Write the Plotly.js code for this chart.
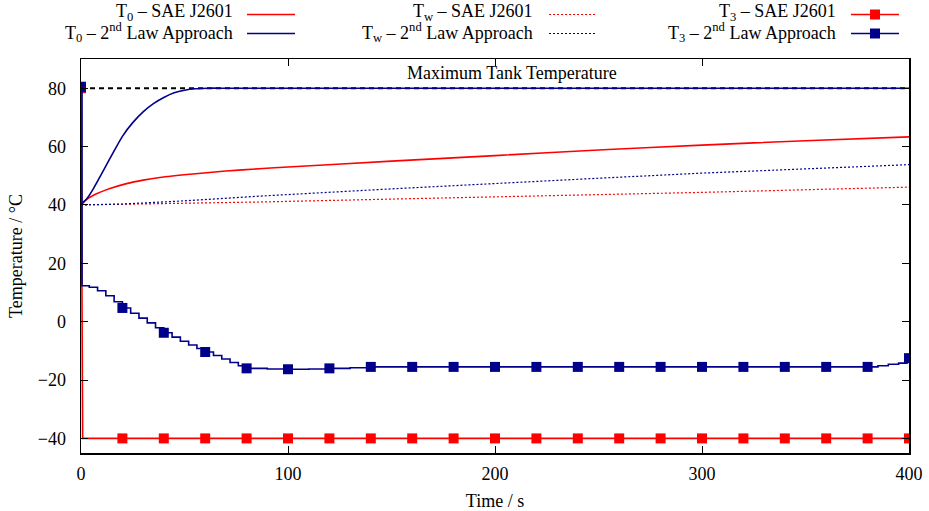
<!DOCTYPE html>
<html>
<head>
<meta charset="utf-8">
<script src="https://cdn.plot.ly/plotly-3.0.1.min.js"></script>
<style>html,body{margin:0;padding:0;background:#fff;}#chart{width:929px;height:511px;}</style>
</head>
<body>
<div id="chart"></div>
<script>
// ---- data ----
var maxTankTime = [0, 400];
var maxTankTemp = [80, 80];

var t0SaeTime = [0, 2, 6, 14, 22, 30, 38, 54, 70, 86, 100, 150, 200, 250, 300, 350, 400];
var t0SaeTemp = [40, 41.5, 43.3, 45.6, 47.3, 48.5, 49.4, 50.6, 51.6, 52.4, 53.0, 55.0, 56.9, 58.8, 60.5, 62.0, 63.3];

var t0LawTime = [0, 1, 3, 6, 11, 16, 20, 25, 30, 35, 40, 45, 50, 55, 62, 70, 400];
var t0LawTemp = [40, 40.8, 42.3, 45.6, 52.0, 58.5, 63.5, 68.2, 71.9, 74.7, 76.8, 78.4, 79.3, 79.8, 80, 80, 80];

var twSaeTime = [0, 50, 86, 150, 200, 246, 300, 350, 400];
var twSaeTemp = [40, 40.5, 41.0, 42.0, 42.7, 43.3, 44.3, 45.2, 46.1];

var twLawTime = [0, 20, 50, 86, 150, 200, 246, 300, 350, 400];
var twLawTemp = [40, 40.3, 41.4, 43.0, 45.5, 47.4, 49.0, 50.9, 52.4, 53.8];

var t3SaeTime = [0, 0.8, 400];
var t3SaeTemp = [80, -40, -40];

var t3LawTime = [0, 0.5, 4, 8, 12, 16, 20, 24, 28, 32, 36, 40, 44, 48, 52, 56, 60, 64, 68, 72, 76, 80, 90, 100, 110, 120, 130, 140, 385, 390, 395, 399, 400];
var t3LawTemp = [80.5, 12.3, 11.8, 10.6, 8.9, 6.8, 4.7, 2.9, 1.2, -0.4, -2.1, -3.8, -5.3, -6.7, -8.0, -9.2, -10.4, -11.6, -12.8, -14.0, -15.1, -16.0, -16.2, -16.3, -16.2, -16.0, -15.8, -15.5, -15.1, -14.6, -14.2, -13.9, -12.5];

var markTime = [0, 20, 40, 60, 80, 100, 120, 140, 160, 180, 200, 220, 240, 260, 280, 300, 320, 340, 360, 380, 400];
var t3SaeMark = [80, -40, -40, -40, -40, -40, -40, -40, -40, -40, -40, -40, -40, -40, -40, -40, -40, -40, -40, -40, -40];
var t3LawMark = [80.5, 4.7, -3.8, -10.4, -16.0, -16.3, -16.0, -15.5, -15.5, -15.5, -15.5, -15.5, -15.5, -15.5, -15.5, -15.5, -15.5, -15.5, -15.5, -15.5, -12.5];

var legendLabels = [
  'T<sub>0</sub> – SAE J2601',
  'T<sub>0</sub> – 2<sup>nd</sup> Law Approach',
  'T<sub>w</sub> – SAE J2601',
  'T<sub>w</sub> – 2<sup>nd</sup> Law Approach',
  'T<sub>3</sub> – SAE J2601',
  'T<sub>3</sub> – 2<sup>nd</sup> Law Approach'
];
var xTicks = [0, 100, 200, 300, 400];
var yTicks = [-40, -20, 0, 20, 40, 60, 80];

// ---- styling ----
var RED = '#ff0000', BLUE = '#00008b';
var FONT = '"Liberation Serif", "Times New Roman", serif';
var TXT = {family: FONT, size: 18, color: '#000'};

var traces = [
  {x: maxTankTime, y: maxTankTemp, mode: 'lines', line: {color: '#000', width: 2, dash: '5px,4px'}, showlegend: false, hoverinfo: 'skip'},
  {x: t0SaeTime, y: t0SaeTemp, mode: 'lines', line: {color: RED, width: 1.6, shape: 'spline', smoothing: 0.6}, name: ' ', legend: 'legend'},
  {x: t0LawTime, y: t0LawTemp, mode: 'lines', line: {color: BLUE, width: 1.6, shape: 'spline', smoothing: 0.6}, name: ' ', legend: 'legend'},
  {x: twSaeTime, y: twSaeTemp, mode: 'lines', line: {color: RED, width: 1.2, dash: '2px,2px'}, name: ' ', legend: 'legend2'},
  {x: twLawTime, y: twLawTemp, mode: 'lines', line: {color: BLUE, width: 1.2, dash: '2px,2px'}, name: ' ', legend: 'legend2'},
  {x: t3SaeTime, y: t3SaeTemp, mode: 'lines', line: {color: RED, width: 1.6}, showlegend: false},
  {x: markTime, y: t3SaeMark, mode: 'markers', marker: {symbol: 'square', size: 10, color: RED}, showlegend: false},
  {x: t3LawTime, y: t3LawTemp, mode: 'lines', line: {color: BLUE, width: 1.6, shape: 'hv'}, showlegend: false},
  {x: markTime, y: t3LawMark, mode: 'markers', marker: {symbol: 'square', size: 10, color: BLUE}, showlegend: false},
  {x: [null], y: [null], mode: 'lines+markers', line: {color: RED, width: 1.6}, marker: {symbol: 'square', size: 10, color: RED}, name: ' ', legend: 'legend3'},
  {x: [null], y: [null], mode: 'lines+markers', line: {color: BLUE, width: 1.6}, marker: {symbol: 'square', size: 10, color: BLUE}, name: ' ', legend: 'legend3'}
];

var W = 828, H = 394, L = 81, T = 59;
function px(xp) { return (xp - L) / W; }
function py(yp) { return (T + H - yp) / H; }

var legBase = {yanchor: 'top', xanchor: 'left', bgcolor: 'rgba(0,0,0,0)', font: {family: FONT, size: 11, color: '#000'}, itemwidth: 48, tracegroupgap: 0, traceorder: 'normal'};
function leg(xpix) { return Object.assign({}, legBase, {x: px(xpix), y: py(0)}); }

var textRight = [235, 535, 838];
var rowY = [13, 33];
var annotations = [];
for (var i = 0; i < legendLabels.length; i++) {
  var c = Math.floor(i / 2), r = i % 2;
  annotations.push({xref: 'paper', yref: 'paper', x: px(textRight[c]), y: py(rowY[r]), xanchor: 'right', yanchor: 'middle', showarrow: false, text: legendLabels[i], font: TXT});
}
annotations.push({xref: 'x', yref: 'y', x: 208, y: 85.2, xanchor: 'center', yanchor: 'middle', showarrow: false, text: 'Maximum Tank Temperature', font: TXT});

var layout = {
  width: 929, height: 511,
  margin: {l: L, r: 929 - L - W, t: T, b: 511 - T - H, autoexpand: false},
  paper_bgcolor: '#fff', plot_bgcolor: '#fff',
  font: TXT,
  xaxis: {range: [0, 400], tickvals: xTicks, ticks: 'inside', ticklen: 7, tickcolor: '#000', tickfont: TXT, showline: true, linecolor: '#000', linewidth: 1.5, mirror: 'ticks', showgrid: false, zeroline: false, ticklabelstandoff: 4,
          title: {text: 'Time / s', font: TXT, standoff: 12}},
  yaxis: {range: [-45, 90], tickvals: yTicks, ticks: 'inside', ticklen: 7, tickcolor: '#000', tickfont: TXT, showline: true, linecolor: '#000', linewidth: 1.5, mirror: 'ticks', showgrid: false, zeroline: false, ticklabelstandoff: 10,
          title: {text: 'Temperature / °C', font: TXT, standoff: 10}},
  showlegend: true,
  legend: leg(242), legend2: leg(544), legend3: leg(846),
  annotations: annotations
};

Plotly.newPlot('chart', traces, layout, {staticPlot: true});
</script>
</body>
</html>
